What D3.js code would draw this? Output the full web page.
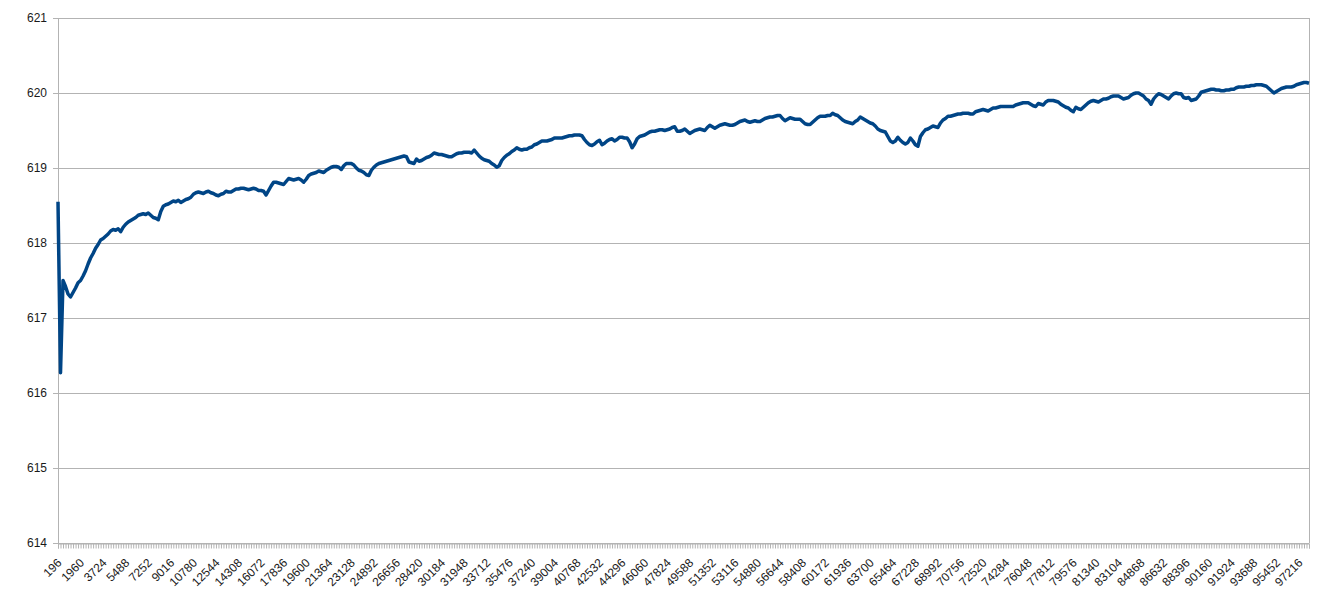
<!DOCTYPE html>
<html>
<head>
<meta charset="utf-8">
<script src="https://cdn.jsdelivr.net/npm/d3@7"></script>
<style>
  html, body { margin: 0; padding: 0; background: #fff; }
  svg { display: block; }
  text { font-family: "Liberation Sans", Arial, sans-serif; }
</style>
</head>
<body>
<svg id="chart" width="1344" height="602"></svg>
<script>
// ---- data ----
const categoryStep = 196;
const categoryCount = 500;
const categories = d3.range(1, categoryCount + 1).map(k => String(k * categoryStep));

const tickLabels = ["196","1960","3724","5488","7252","9016","10780","12544","14308","16072",
  "17836","19600","21364","23128","24892","26656","28420","30184","31948","33712",
  "35476","37240","39004","40768","42532","44296","46060","47824","49588","51352",
  "53116","54880","56644","58408","60172","61936","63700","65464","67228","68992",
  "70756","72520","74284","76048","77812","79576","81340","83104","84868","86632",
  "88396","90160","91924","93688","95452","97216"];

const yTicks = [614, 615, 616, 617, 618, 619, 620, 621];

const values = [
618.55,616.27,617.50,617.42,617.32,617.28,617.34,617.40,617.47,617.50,
617.56,617.63,617.72,617.80,617.86,617.93,617.98,618.04,618.06,618.09,
618.12,618.16,618.18,618.17,618.19,618.15,618.21,618.25,618.28,618.30,
618.32,618.34,618.37,618.38,618.39,618.38,618.40,618.37,618.34,618.33,
618.31,618.42,618.49,618.51,618.52,618.54,618.56,618.55,618.57,618.54,
618.56,618.58,618.59,618.61,618.65,618.67,618.68,618.67,618.66,618.68,
618.69,618.67,618.66,618.64,618.63,618.65,618.66,618.69,618.68,618.68,
618.70,618.72,618.72,618.73,618.73,618.72,618.71,618.72,618.73,618.72,
618.70,618.70,618.69,618.64,618.70,618.76,618.81,618.81,618.80,618.79,
618.78,618.82,618.86,618.85,618.84,618.85,618.86,618.84,618.81,618.85,
618.90,618.92,618.93,618.94,618.96,618.95,618.94,618.97,618.99,619.01,
619.02,619.02,619.01,618.98,619.03,619.06,619.06,619.06,619.04,619.00,
618.97,618.96,618.94,618.91,618.90,618.97,619.01,619.04,619.06,619.07,
619.08,619.09,619.10,619.11,619.12,619.13,619.14,619.15,619.16,619.15,
619.08,619.07,619.06,619.12,619.09,619.10,619.12,619.14,619.15,619.17,
619.20,619.19,619.18,619.18,619.17,619.16,619.15,619.15,619.17,619.19,
619.20,619.20,619.21,619.21,619.21,619.20,619.24,619.20,619.16,619.13,
619.11,619.10,619.09,619.06,619.04,619.01,619.03,619.10,619.14,619.17,
619.19,619.22,619.24,619.27,619.25,619.24,619.25,619.25,619.27,619.28,
619.31,619.32,619.34,619.36,619.36,619.36,619.37,619.38,619.40,619.40,
619.40,619.40,619.41,619.42,619.43,619.43,619.44,619.44,619.44,619.43,
619.38,619.34,619.31,619.30,619.32,619.35,619.37,619.31,619.33,619.36,
619.38,619.39,619.36,619.38,619.41,619.41,619.40,619.40,619.35,619.27,
619.32,619.39,619.42,619.43,619.44,619.46,619.48,619.49,619.49,619.50,
619.51,619.51,619.50,619.51,619.52,619.54,619.55,619.49,619.49,619.50,
619.52,619.49,619.46,619.48,619.50,619.51,619.52,619.51,619.50,619.54,
619.57,619.55,619.53,619.55,619.57,619.58,619.59,619.58,619.57,619.57,
619.58,619.60,619.62,619.63,619.64,619.62,619.61,619.62,619.63,619.62,
619.62,619.64,619.66,619.67,619.68,619.68,619.69,619.70,619.70,619.66,
619.63,619.65,619.67,619.66,619.65,619.65,619.65,619.62,619.59,619.58,
619.58,619.61,619.64,619.67,619.69,619.69,619.69,619.70,619.70,619.73,
619.71,619.70,619.67,619.64,619.62,619.61,619.60,619.59,619.62,619.64,
619.68,619.66,619.64,619.62,619.60,619.59,619.56,619.52,619.50,619.49,
619.48,619.42,619.36,619.34,619.36,619.41,619.37,619.34,619.32,619.34,
619.40,619.36,619.31,619.29,619.42,619.47,619.51,619.52,619.54,619.56,
619.55,619.54,619.60,619.64,619.66,619.69,619.69,619.70,619.71,619.72,
619.72,619.73,619.73,619.73,619.72,619.72,619.75,619.76,619.77,619.78,
619.77,619.76,619.78,619.80,619.80,619.81,619.82,619.82,619.82,619.82,
619.82,619.82,619.84,619.85,619.86,619.87,619.87,619.87,619.85,619.83,
619.82,619.86,619.85,619.84,619.88,619.90,619.90,619.90,619.89,619.88,
619.85,619.83,619.81,619.80,619.77,619.75,619.81,619.79,619.78,619.81,
619.84,619.87,619.89,619.90,619.89,619.88,619.90,619.92,619.92,619.93,
619.95,619.96,619.96,619.96,619.94,619.92,619.93,619.94,619.97,619.99,
620.00,620.00,619.98,619.96,619.92,619.90,619.85,619.92,619.96,619.99,
619.98,619.96,619.94,619.92,619.96,619.99,620.00,619.99,619.99,619.94,
619.93,619.94,619.90,619.91,619.92,619.96,620.01,620.02,620.03,620.04,
620.05,620.05,620.04,620.04,620.03,620.03,620.04,620.04,620.05,620.05,
620.07,620.08,620.08,620.08,620.09,620.09,620.10,620.10,620.11,620.11,
620.11,620.10,620.09,620.06,620.03,620.00,620.02,620.04,620.06,620.07,
620.08,620.08,620.08,620.09,620.11,620.12,620.13,620.14,620.14,620.13
];

// ---- layout ----
const svg = d3.select("#chart");
const plotLeft = 58, plotRight = 1309, plotTop = 18, plotBottom = 543;
const gridColor = "#b3b3b3";
const textColor = "#1a1a1a";

const x = d3.scalePoint().domain(categories).range([plotLeft, plotRight]).padding(0);
const y = d3.scaleLinear().domain([614, 621]).range([plotBottom, plotTop]);

// horizontal gridlines
svg.append("g").selectAll("line").data(yTicks).join("line")
  .attr("x1", plotLeft - 5).attr("x2", plotRight)
  .attr("y1", d => Math.round(y(d)) + 0.5).attr("y2", d => Math.round(y(d)) + 0.5)
  .attr("stroke", gridColor).attr("stroke-width", 1);

// y labels
svg.append("g").selectAll("text").data(yTicks).join("text")
  .attr("x", 47).attr("y", d => y(d)).attr("dy", "0.35em")
  .attr("text-anchor", "end").attr("font-size", 12).attr("fill", textColor)
  .text(d => d);

// left axis and right border
svg.append("line").attr("x1", plotLeft + 0.5).attr("x2", plotLeft + 0.5).attr("y1", plotTop).attr("y2", plotBottom)
  .attr("stroke", gridColor);
svg.append("line").attr("x1", plotRight + 0.5).attr("x2", plotRight + 0.5).attr("y1", plotTop).attr("y2", plotBottom)
  .attr("stroke", gridColor);

// x axis ticks per category
const xAxis = d3.axisBottom(x).tickSize(5).tickFormat(d => tickLabels.includes(d) ? d : "");
const gx = svg.append("g").attr("transform", `translate(0,${plotBottom + 0.5})`).call(xAxis);
gx.select(".domain").attr("stroke", gridColor);
gx.selectAll(".tick line").attr("stroke", gridColor);
gx.selectAll(".tick text")
  .attr("font-size", 12).attr("fill", textColor)
  .attr("font-family", "Liberation Sans, Arial, sans-serif")
  .attr("text-anchor", "end")
  .attr("y", 0).attr("dy", "0.35em")
  .attr("transform", "translate(1,17) rotate(-45)");

// line
const line = d3.line().x((d, i) => x(categories[i])).y(d => y(d));
svg.append("path").datum(values)
  .attr("d", line).attr("fill", "none")
  .attr("stroke", "#004586").attr("stroke-width", 3.5)
  .attr("stroke-linejoin", "round").attr("stroke-linecap", "butt");
</script>
</body>
</html>
